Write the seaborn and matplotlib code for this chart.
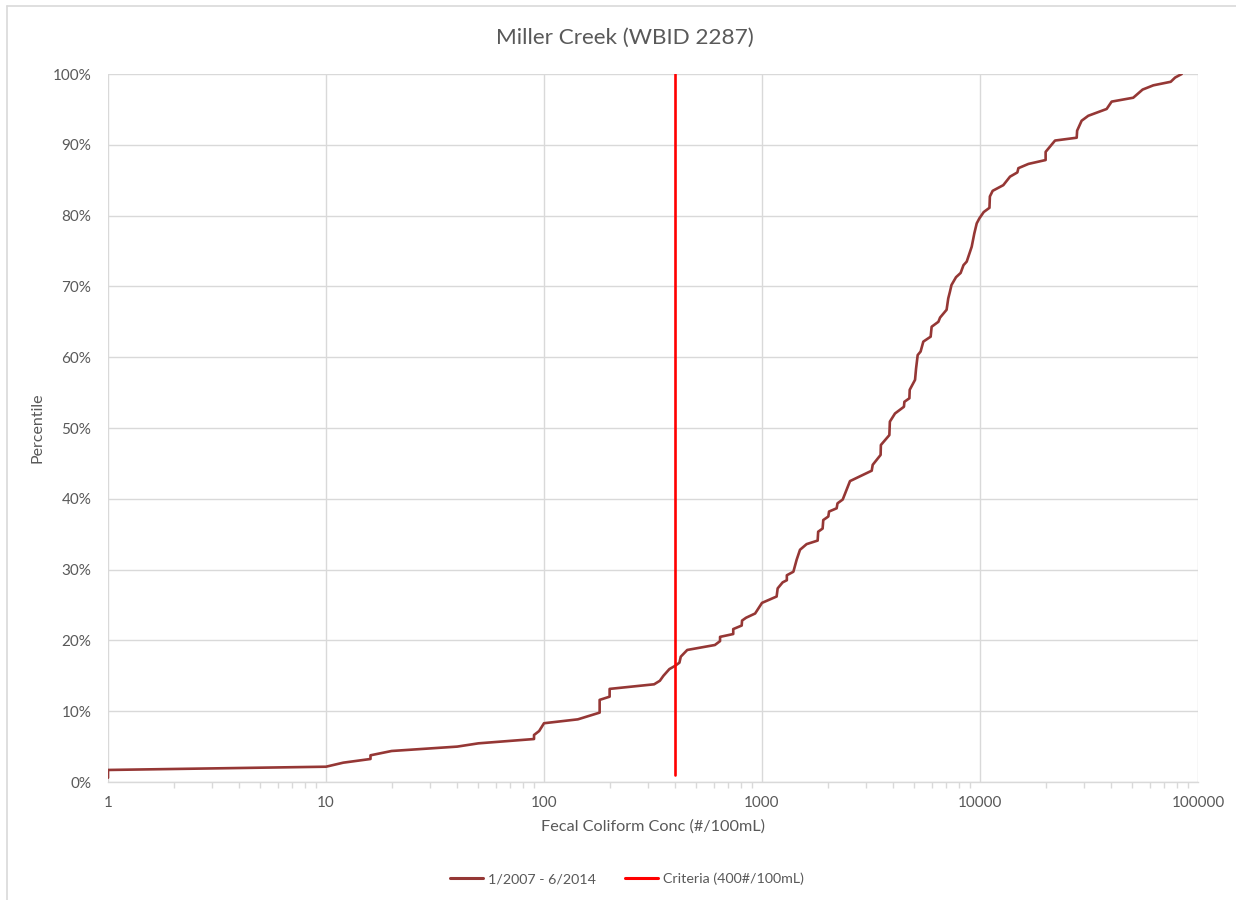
import matplotlib
matplotlib.use("Agg")
import matplotlib.pyplot as plt
from matplotlib.lines import Line2D
from matplotlib.ticker import FuncFormatter, LogLocator, FixedLocator
import seaborn as sns
import pandas as pd

# Fecal coliform concentrations (#/100mL) and their cumulative percentiles (%)
concentration = [
    1, 1, 10, 12, 16, 16, 20, 40, 50, 90, 90, 95, 100, 143, 180, 180, 200, 200,
    320, 340, 353, 376, 399, 418, 424, 454, 608, 642, 642, 738, 738, 807, 810,
    845, 930, 1000, 1167, 1180, 1244, 1300, 1300, 1393, 1442, 1494, 1602, 1800,
    1810, 1897, 1910, 2015, 2030, 2200, 2220, 2346, 2533, 3186, 3220, 3500, 3510,
    3839, 3860, 4074, 4478, 4500, 4743, 4760, 5035, 5090, 5178, 5340, 5495, 5938,
    6000, 6442, 6560, 7027, 7150, 7280, 7400, 7762, 8150, 8400, 8690, 9160, 9420,
    9660, 9930, 10400, 11050, 11100, 11430, 12790, 13730, 14840, 15000, 16680,
    20000, 20000, 22090, 27770, 27900, 29250, 31380, 38100, 40170, 50460, 55700,
    62380, 74960, 78540, 84210,
]
percentile = [
    0.6, 1.7, 2.16, 2.73, 3.25, 3.77, 4.38, 5.0, 5.46, 6.07, 6.64, 7.2, 8.3, 8.85,
    9.8, 11.6, 12.05, 13.15, 13.8, 14.3, 15.0, 15.95, 16.4, 16.85, 17.7, 18.65,
    19.35, 19.9, 20.5, 20.9, 21.6, 22.1, 22.8, 23.2, 23.8, 25.3, 26.2, 27.35, 28.2,
    28.5, 29.2, 29.7, 31.4, 32.8, 33.6, 34.1, 35.35, 35.8, 37.0, 37.5, 38.2, 38.66,
    39.36, 39.9, 42.5, 43.97, 44.8, 46.2, 47.6, 49.0, 50.9, 52.05, 53.0, 53.7, 54.2,
    55.4, 56.8, 58.4, 60.3, 60.8, 62.2, 62.9, 64.3, 65.0, 65.6, 66.7, 68.3, 69.25,
    70.2, 71.3, 71.9, 73.0, 73.5, 75.6, 77.5, 78.9, 79.6, 80.5, 81.1, 82.7, 83.5,
    84.3, 85.5, 86.1, 86.7, 87.3, 87.85, 89.0, 90.6, 91.0, 92.0, 93.4, 94.1, 95.06,
    96.1, 96.65, 97.8, 98.4, 98.9, 99.5, 100.0,
]

# Water quality criterion
criteria_value = 400
criteria_span = [0.01, 1.0]

series_label = "1/2007 - 6/2014"
criteria_label = "Criteria (400#/100mL)"
x_tick_labels = ["1", "10", "100", "1000", "10000", "100000"]

sns.set_theme(style="white")
plt.rcParams["font.family"] = ["Lato", "DejaVu Sans"]

text_color = "#595959"
grid_color = "#d9d9d9"
curve_color = "#953735"

df = pd.DataFrame({"conc": concentration, "pct": [p / 100 for p in percentile]})
crit = pd.DataFrame({"conc": [criteria_value, criteria_value], "pct": criteria_span})

fig = plt.figure(figsize=(12.36, 9.0), dpi=100)
ax = fig.add_axes([108 / 1236, 1 - 782 / 900, (1198 - 108) / 1236, (782 - 74) / 900])

sns.lineplot(data=df, x="conc", y="pct", sort=False, estimator=None,
             color=curve_color, linewidth=1.9, ax=ax, label=series_label, zorder=3)
sns.lineplot(data=crit, x="conc", y="pct", sort=False, estimator=None,
             color="#ff0000", linewidth=1.9, ax=ax, label=criteria_label, zorder=4)

ax.set_xscale("log")
ax.set_xlim(1, 100000)
ax.set_ylim(0, 1.0)

major = [1, 10, 100, 1000, 10000, 100000]
ax.xaxis.set_major_locator(FixedLocator(major))
ax.xaxis.set_major_formatter(FuncFormatter(lambda v, p: x_tick_labels[major.index(v)] if v in major else ""))
ax.xaxis.set_minor_locator(LogLocator(base=10, subs=range(2, 10), numticks=20))
ax.set_yticks([i / 10 for i in range(11)])
ax.yaxis.set_major_formatter(FuncFormatter(lambda v, p: f"{v * 100:.0f}%"))

ax.grid(True, which="major", axis="both", color=grid_color, linewidth=1.0)
for side in ["top", "right", "left"]:
    ax.spines[side].set_visible(False)
ax.spines["bottom"].set_color(grid_color)
ax.spines["bottom"].set_linewidth(1.0)

ax.tick_params(axis="x", which="major", direction="out", length=5, width=1.0,
               color=grid_color, labelsize=11, labelcolor=text_color, pad=5)
ax.tick_params(axis="x", which="minor", direction="out", length=4, width=1.0,
               color=grid_color, bottom=True)
ax.tick_params(axis="y", which="both", length=0, labelsize=11, labelcolor=text_color, pad=12)

ax.set_xlabel("Fecal Coliform Conc (#/100mL)", fontsize=11.7, color=text_color, labelpad=7)
ax.set_ylabel("Percentile", fontsize=11.5, color=text_color, labelpad=6)

fig.text(625 / 1236, 1 - 38 / 900, "Miller Creek (WBID 2287)", ha="center", va="center",
         fontsize=16.2, color=text_color)

ax.legend_.remove()
handles = [Line2D([], [], color=curve_color, linewidth=2.2),
           Line2D([], [], color="#ff0000", linewidth=2.2)]
fig.legend(handles, [series_label, criteria_label], loc="center",
           bbox_to_anchor=(627 / 1236, 1 - 879 / 900), ncol=2, frameon=False,
           fontsize=10.3, labelcolor=text_color, handlelength=2.3, handletextpad=0.4,
           columnspacing=2.0)

# Chart area border (top and left edges)
fig.add_artist(Line2D([7 / 1236, 1.0], [1 - 6 / 900, 1 - 6 / 900], color=grid_color, linewidth=1.2))
fig.add_artist(Line2D([7 / 1236, 7 / 1236], [0, 1 - 6 / 900], color=grid_color, linewidth=1.2))

fig.savefig("out.png", dpi=100, facecolor="white")
